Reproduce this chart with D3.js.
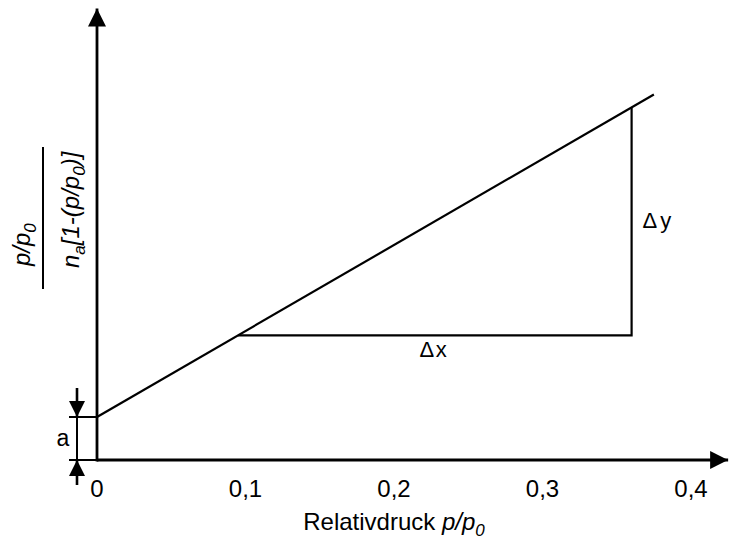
<!DOCTYPE html>
<html>
<head>
<meta charset="utf-8">
<script src="https://cdn.jsdelivr.net/npm/d3@7"></script>
<style>
  html, body { margin: 0; padding: 0; background: #fff; }
  svg { display: block; font-family: "Liberation Sans", Arial, Helvetica, sans-serif; }
</style>
</head>
<body>
<svg id="chart" width="735" height="544"></svg>
<script>
// BET plot: p/p0 / (n_a [1 - p/p0]) against relative pressure
const xTicks = [0, 0.1, 0.2, 0.3, 0.4];
const xTickLabels = ["0", "0,1", "0,2", "0,3", "0,4"];

// straight BET line: intercept a at p/p0 = 0
const lineX = [0, 0.375];
const lineY = [1, 8.5];

// slope triangle (Δx along the bottom, Δy on the right)
const stepX = [0.095, 0.36, 0.36];
const stepY = [2.9, 2.9, 8.2];

const intercept = 1;

const xMax = 0.425;
const yMax = 10.5;

const svg = d3.select("#chart");

const x = d3.scaleLinear().domain([0, 0.4]).range([97, 691]);
const y = d3.scaleLinear().domain([0, yMax]).range([460, 8.5]);

// arrowhead markers
const defs = svg.append("defs");
defs.append("marker")
  .attr("id", "arrow")
  .attr("viewBox", "0 0 18 18")
  .attr("refX", 18).attr("refY", 9)
  .attr("markerWidth", 18).attr("markerHeight", 18)
  .attr("markerUnits", "userSpaceOnUse")
  .attr("orient", "auto")
  .append("path").attr("d", "M0,0 L18,9 L0,18 Z").attr("fill", "#000");
defs.append("marker")
  .attr("id", "arrowSmall")
  .attr("viewBox", "0 0 16 16")
  .attr("refX", 16).attr("refY", 8)
  .attr("markerWidth", 16).attr("markerHeight", 16)
  .attr("markerUnits", "userSpaceOnUse")
  .attr("orient", "auto")
  .append("path").attr("d", "M0,0 L16,8 L0,16 Z").attr("fill", "#000");

// axes
svg.append("line")
  .attr("x1", x(0)).attr("y1", y(0))
  .attr("x2", x(xMax)).attr("y2", y(0))
  .attr("stroke", "#000").attr("stroke-width", 2.8)
  .attr("marker-end", "url(#arrow)");
svg.append("line")
  .attr("x1", x(0)).attr("y1", y(0) + 1.4)
  .attr("x2", x(0)).attr("y2", y(yMax))
  .attr("stroke", "#000").attr("stroke-width", 2.8)
  .attr("marker-end", "url(#arrow)");

// x tick labels
svg.append("g").selectAll("text")
  .data(xTicks)
  .join("text")
  .attr("x", d => x(d))
  .attr("y", 497)
  .attr("text-anchor", "middle")
  .attr("font-size", 24)
  .text((d, i) => xTickLabels[i]);

// x title
const xt = svg.append("text")
  .attr("x", x(0.2))
  .attr("y", 530)
  .attr("text-anchor", "middle")
  .attr("font-size", 24);
xt.append("tspan").text("Relativdruck ");
xt.append("tspan").attr("font-style", "italic").text("p/p");
xt.append("tspan").attr("font-style", "italic").attr("font-size", 17).attr("dy", 6).text("0");

// y title as a fraction, rotated
const yt = svg.append("g");
yt.append("text")
  .attr("transform", "translate(30,266) rotate(-90)")
  .attr("font-size", 24)
  .attr("font-style", "italic")
  .call(t => {
    t.append("tspan").text("p/p");
    t.append("tspan").attr("font-size", 17).attr("dy", 6).text("0");
  });
yt.append("line")
  .attr("x1", 43).attr("x2", 43)
  .attr("y1", 147).attr("y2", 289)
  .attr("stroke", "#000").attr("stroke-width", 2);
yt.append("text")
  .attr("transform", "translate(79,268) rotate(-90)")
  .attr("font-size", 24)
  .attr("font-style", "italic")
  .call(t => {
    t.append("tspan").text("n");
    t.append("tspan").attr("font-size", 17).attr("dy", 6).text("a");
    t.append("tspan").attr("dy", -6).text("[1-(p/p");
    t.append("tspan").attr("font-size", 17).attr("dy", 6).text("0");
    t.append("tspan").attr("dy", -6).text(")]");
  });

// BET line
const path = d3.line().x(d => x(d[0])).y(d => y(d[1]));
svg.append("path")
  .attr("d", path(d3.zip(lineX, lineY)))
  .attr("fill", "none").attr("stroke", "#000").attr("stroke-width", 2.2);

// slope triangle
svg.append("path")
  .attr("d", path(d3.zip(stepX, stepY)))
  .attr("fill", "none").attr("stroke", "#000").attr("stroke-width", 2.2);

svg.append("text")
  .attr("x", x((stepX[0] + stepX[1]) / 2) - 1)
  .attr("y", y(stepY[0]) + 22)
  .attr("text-anchor", "middle")
  .attr("font-size", 22)
  .attr("letter-spacing", 1.5)
  .text("\u0394x");
svg.append("text")
  .attr("x", x(stepX[1]) + 11)
  .attr("y", y((stepY[1] + stepY[2]) / 2) + 7)
  .attr("font-size", 22)
  .attr("letter-spacing", 3)
  .text("\u0394y");

// intercept bracket "a"
const bx = x(0) - 20;
const bracket = svg.append("g").attr("stroke", "#000").attr("stroke-width", 2);
[0, intercept].forEach(v => {
  bracket.append("line")
    .attr("x1", x(0) - 28).attr("x2", x(0))
    .attr("y1", y(v)).attr("y2", y(v));
});
bracket.append("line")
  .attr("x1", bx).attr("x2", bx)
  .attr("y1", y(intercept)).attr("y2", y(0));
bracket.append("line")
  .attr("x1", bx).attr("x2", bx)
  .attr("y1", y(intercept) - 29).attr("y2", y(intercept))
  .attr("stroke-width", 2.6)
  .attr("marker-end", "url(#arrowSmall)");
bracket.append("line")
  .attr("x1", bx).attr("x2", bx)
  .attr("y1", y(0) + 25).attr("y2", y(0))
  .attr("stroke-width", 2.6)
  .attr("marker-end", "url(#arrowSmall)");
svg.append("text")
  .attr("x", bx - 14)
  .attr("y", (y(0) + y(intercept)) / 2 + 7)
  .attr("text-anchor", "middle")
  .attr("font-size", 23)
  .text("a");
</script>
</body>
</html>
